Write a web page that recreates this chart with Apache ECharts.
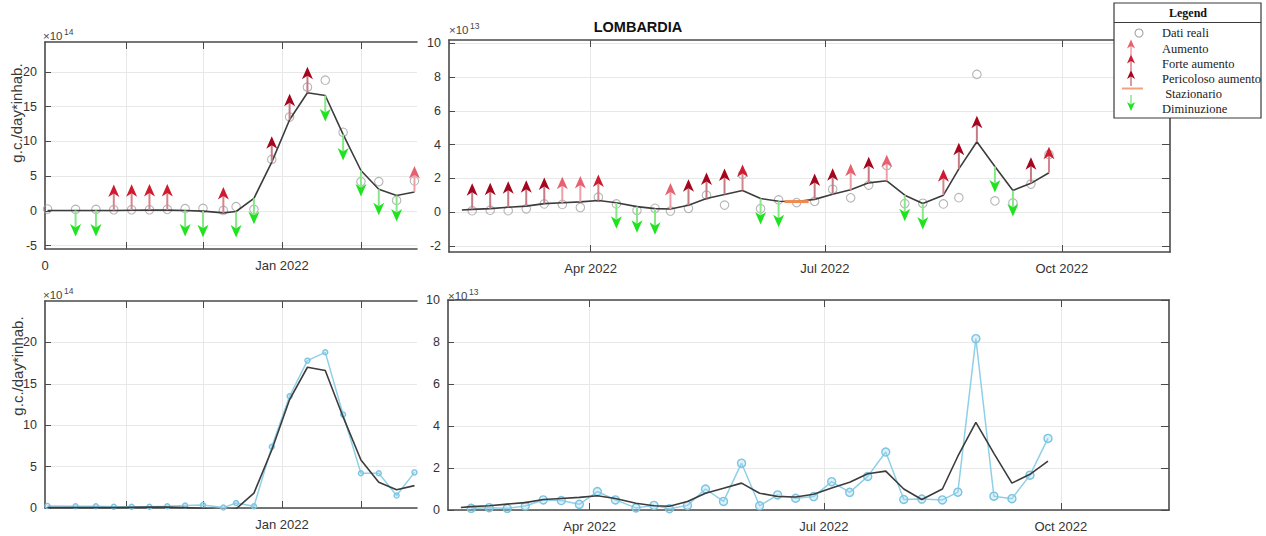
<!DOCTYPE html>
<html>
<head>
<meta charset="utf-8">
<script src="https://cdn.jsdelivr.net/npm/echarts@6/dist/echarts.min.js"></script>
<style>
  html, body { margin: 0; padding: 0; background: #fff; }
  #chart { width: 1266px; height: 536px; }
</style>
</head>
<body>
<div id="chart"></div>
<script>
// ---- Winter wave 2021/22 (left panels), units of 1e14 g.c./day*inhab. ----
const winterDates = ['2021-10-01','2021-10-12','2021-10-20','2021-10-27','2021-11-03','2021-11-10','2021-11-17',
  '2021-11-24','2021-12-01','2021-12-09','2021-12-14','2021-12-21','2021-12-28','2022-01-04','2022-01-11',
  '2022-01-18','2022-01-25','2022-02-01','2022-02-08','2022-02-15','2022-02-22'];
const winterReal  = [0.25, 0.2, 0.2, 0.15, 0.15, 0.15, 0.2, 0.3, 0.35, 0.05, 0.6, 0.2, 7.4, 13.5, 17.8, 18.8, 11.3, 4.2, 4.2, 1.5, 4.3];
const winterTrend = [0.05, 0.05, 0.05, 0.05, 0.08, 0.1, 0.1, 0.05, -0.05, -0.3, -0.1, 1.8, 7.0, 13.1, 17.0, 16.6, 11.0, 5.8, 3.1, 2.2, 2.7];
const winterSignal = ['', 'down','down','forte','forte','forte','forte','down','down','forte','down','down',
  'pericoloso','pericoloso','pericoloso','down','down','down','down','down','aumento'];

// ---- Spring / summer 2022 (right panels), units of 1e13 g.c./day*inhab. ----
const summerDates = ['2022-02-10','2022-02-14','2022-02-21','2022-02-28','2022-03-07','2022-03-14','2022-03-21',
  '2022-03-28','2022-04-04','2022-04-11','2022-04-19','2022-04-26','2022-05-02','2022-05-09','2022-05-16',
  '2022-05-23','2022-05-30','2022-06-06','2022-06-13','2022-06-20','2022-06-27','2022-07-04','2022-07-11',
  '2022-07-18','2022-07-25','2022-08-01','2022-08-08','2022-08-16','2022-08-22','2022-08-29','2022-09-05',
  '2022-09-12','2022-09-19','2022-09-26'];
const summerReal  = [null, 0.08, 0.11, 0.08, 0.19, 0.48, 0.45, 0.27, 0.88, 0.48, 0.10, 0.22, 0.06, 0.22, 1.00, 0.41,
  2.23, 0.2, 0.72, 0.56, 0.64, 1.35, 0.84, 1.6, 2.76, 0.5, 0.52, 0.48, 0.85, 8.16, 0.66, 0.54, 1.66, 3.41];
const summerTrend = [0.12, 0.16, 0.2, 0.28, 0.35, 0.5, 0.55, 0.6, 0.68, 0.55, 0.32, 0.2, 0.18, 0.4, 0.8, 1.04,
  1.28, 0.8, 0.64, 0.62, 0.75, 1.05, 1.32, 1.73, 1.85, 1.0, 0.5, 1.0, 2.56, 4.17, 2.7, 1.28, 1.7, 2.33];
const summerSignal = ['', 'pericoloso','pericoloso','pericoloso','pericoloso','pericoloso','aumento','aumento','forte',
  'down','down','down','aumento','pericoloso','pericoloso','pericoloso','forte','down','down','flat','pericoloso',
  'pericoloso','aumento','pericoloso','aumento','down','down','forte','pericoloso','pericoloso','down','down',
  'pericoloso','forte'];

// ---- Axis ticks and labels ----
const winterRange = ['2021-09-30', '2022-02-23'];
const summerRange = ['2022-02-05', '2022-11-12'];
const winterMonthTicks = ['2021-11-01', '2021-12-01', '2022-01-01', '2022-02-01'];
const summerMonthTicks = ['2022-04-01', '2022-07-01', '2022-10-01'];
const winterTickLabels = { '2021-09-30': '0', '2022-01-01': 'Jan 2022' };
const winterTickLabelsBottom = { '2022-01-01': 'Jan 2022' };
const summerTickLabels = { '2022-04-01': 'Apr 2022', '2022-07-01': 'Jul 2022', '2022-10-01': 'Oct 2022' };
const yTicksWinterTop = [-5, 0, 5, 10, 15, 20];
const yTicksWinterBottom = [0, 5, 10, 15, 20];
const yTicksSummerTop = [-2, 0, 2, 4, 6, 8, 10];
const yTicksSummerBottom = [0, 2, 4, 6, 8, 10];

const signalCode = { aumento: 1, forte: 2, pericoloso: 3, flat: 0, down: -1 };
const signalNames = { aumento: 'Aumento', forte: 'Forte aumento', pericoloso: 'Pericoloso aumento',
  flat: ' Stazionario', down: 'Diminuzione' };

const SANS = '"Liberation Sans", Arial, sans-serif';
const SERIF = '"Liberation Serif", "Times New Roman", serif';
const AXIS = '#4a4a4a';
const GRIDC = '#e8e8e8';
const HEAD = { 1: '#e8606f', 2: '#cf1a30', 3: '#a5051d', '-1': '#1fe31f' };
const SHAFT = { 1: '#eda0a8', 2: '#d5858e', 3: '#c47c86', '-1': '#86e986' };
const FLAT = '#f28a50';

const ts = d => Date.parse(d + 'T00:00:00Z');
const dayKey = v => new Date(v).toISOString().slice(0, 10);

function pairs(dates, vals) {
  const out = [];
  dates.forEach((d, i) => { if (vals[i] !== null) out.push([ts(d), vals[i]]); });
  return out;
}

// one arrow (or a flat bar) anchored on the trend point
function arrowShape(px, py, k, L, w, h, flatHalf, z, sw) {
  if (k === 0) {
    return { type: 'line', z: z, shape: { x1: px - flatHalf, y1: py, x2: px + flatHalf, y2: py },
      style: { stroke: FLAT, lineWidth: 3 } };
  }
  const dir = k > 0 ? -1 : 1;
  const tipY = py + dir * L;
  const backY = tipY - dir * h;
  const notchY = tipY - dir * h * 0.72;
  return { type: 'group', z: z, children: [
    { type: 'line', z: z, shape: { x1: px, y1: py, x2: px, y2: notchY }, style: { stroke: SHAFT[k], lineWidth: sw } },
    { type: 'polygon', z: z, shape: { points: [[px, tipY], [px - w / 2, backY], [px, notchY], [px + w / 2, backY]] },
      style: { fill: HEAD[k] } }
  ]};
}

function arrowSeries(dates, trend, signal, axisIdx) {
  const data = [];
  dates.forEach((d, i) => { if (signal[i]) data.push([ts(d), trend[i], signalCode[signal[i]]]); });
  return {
    type: 'custom', xAxisIndex: axisIdx, yAxisIndex: axisIdx, z: 5, data: data,
    renderItem: (params, api) => {
      const p = api.coord([api.value(0), api.value(1)]);
      return arrowShape(p[0], p[1], api.value(2), 26, 11, 12.5, 12, 5, 2);
    }
  };
}

function xAxis(gi, range, ticks, labels, top) {
  const lab = labels || {};
  return {
    type: 'value', gridIndex: gi, min: ts(range[0]), max: ts(range[1]), position: top ? 'top' : 'bottom',
    axisLine: { show: true, onZero: false, lineStyle: { color: AXIS, width: 1.6 } },
    axisTick: { show: true, inside: true, length: 7, customValues: ticks.map(ts), lineStyle: { color: AXIS, width: 1 } },
    axisLabel: top ? { show: false } : {
      show: true, customValues: Object.keys(lab).map(ts), formatter: v => lab[dayKey(v)] || '',
      margin: 10, color: '#333', fontSize: 13, fontFamily: SANS
    },
    splitLine: { show: !top, lineStyle: { color: GRIDC, width: 1 } }
  };
}

function yAxis(gi, min, max, ticks, right) {
  return {
    type: 'value', gridIndex: gi, min: min, max: max, position: right ? 'right' : 'left',
    axisLine: { show: true, onZero: false, lineStyle: { color: AXIS, width: 1.6 } },
    axisTick: { show: true, inside: true, length: right ? 8 : 6, customValues: ticks, lineStyle: { color: AXIS, width: 1 } },
    axisLabel: right ? { show: false } : {
      show: true, customValues: ticks, margin: 8, color: '#333', fontSize: 12.5, fontFamily: SANS
    },
    splitLine: { show: !right, lineStyle: { color: GRIDC, width: 1 } }
  };
}

const grids = [
  { left: 45, top: 42, width: 372, height: 207 },
  { left: 449, top: 40, width: 721, height: 212 },
  { left: 45, top: 301, width: 372, height: 207 },
  { left: 448, top: 300, width: 721, height: 210 }
];

const xAxes = [
  xAxis(0, winterRange, winterMonthTicks, winterTickLabels, false),
  xAxis(1, summerRange, summerMonthTicks, summerTickLabels, false),
  xAxis(2, winterRange, winterMonthTicks, winterTickLabelsBottom, false),
  xAxis(3, summerRange, summerMonthTicks, summerTickLabels, false),
  xAxis(0, winterRange, winterMonthTicks, null, true),
  xAxis(1, summerRange, summerMonthTicks, null, true),
  xAxis(2, winterRange, winterMonthTicks, null, true),
  xAxis(3, summerRange, summerMonthTicks, null, true)
];
const yAxes = [
  yAxis(0, -5.5, 24.3, yTicksWinterTop, false),
  yAxis(1, -2.37, 10.2, yTicksSummerTop, false),
  yAxis(2, 0, 25, yTicksWinterBottom, false),
  yAxis(3, 0, 10, yTicksSummerBottom, false),
  yAxis(1, -2.37, 10.2, yTicksSummerTop, true),
  yAxis(3, 0, 10, yTicksSummerBottom, true)
];

function realCircles(dates, vals, idx) {
  return { type: 'scatter', xAxisIndex: idx, yAxisIndex: idx, z: 2, symbol: 'circle', symbolSize: 8.5,
    itemStyle: { color: 'rgba(0,0,0,0)', borderColor: '#a2a2a2', borderWidth: 1.1 }, data: pairs(dates, vals) };
}
function trendLine(dates, vals, idx) {
  return { type: 'line', xAxisIndex: idx, yAxisIndex: idx, z: 4, showSymbol: false, symbol: 'none',
    lineStyle: { color: '#3c3c3c', width: 1.6 }, data: pairs(dates, vals) };
}
function realLine(dates, vals, idx, size) {
  return { type: 'line', xAxisIndex: idx, yAxisIndex: idx, z: 3, symbol: 'circle', symbolSize: size, showSymbol: true,
    lineStyle: { color: '#8fd0e8', width: 1.5 },
    itemStyle: { color: 'rgba(160,215,238,0.35)', borderColor: '#79c4e1', borderWidth: 1.4 },
    data: pairs(dates, vals) };
}

const series = [
  realCircles(winterDates, winterReal, 0),
  trendLine(winterDates, winterTrend, 0),
  arrowSeries(winterDates, winterTrend, winterSignal, 0),
  realCircles(summerDates, summerReal, 1),
  trendLine(summerDates, summerTrend, 1),
  arrowSeries(summerDates, summerTrend, summerSignal, 1),
  realLine(winterDates, winterReal, 2, 5),
  trendLine(winterDates, winterTrend, 2),
  realLine(summerDates, summerReal, 3, 8),
  trendLine(summerDates, summerTrend, 3)
];

function txt(x, y, text, font, opts) {
  const o = opts || {};
  return { type: 'text', x: x, y: y, rotation: o.rotation || 0, z: o.z || 50,
    style: { text: text, font: font, fill: o.fill || '#333', align: o.align || 'left', textAlign: o.align || 'left',
      verticalAlign: 'middle', textVerticalAlign: 'middle' } };
}
function exponent(x, y, pow) {
  return [txt(x, y, '\u00d710', '11.5px ' + SANS, { fill: '#444' }), txt(x + 21, y - 4, pow, '8.5px ' + SANS, { fill: '#444' })];
}

// legend box
const LX = 1114, LY = 3;
const legendItems = [
  { key: 'real', label: 'Dati reali', y: 33 },
  { key: 'aumento', label: signalNames.aumento, y: 48.5 },
  { key: 'forte', label: signalNames.forte, y: 63.5 },
  { key: 'pericoloso', label: signalNames.pericoloso, y: 79 },
  { key: 'flat', label: signalNames.flat, y: 93.5 },
  { key: 'down', label: signalNames.down, y: 109 }
];
const legendChildren = [
  { type: 'rect', z: 100, shape: { x: LX, y: LY, width: 147, height: 115 }, style: { fill: '#fff', stroke: '#3a3a3a', lineWidth: 1.2 } },
  { type: 'line', z: 101, shape: { x1: LX, y1: 22.5, x2: LX + 147, y2: 22.5 }, style: { stroke: '#3a3a3a', lineWidth: 1.2 } },
  txt(LX + 74, 13, 'Legend', 'bold 12px ' + SERIF, { align: 'center', fill: '#111', z: 101 })
];
legendItems.forEach(it => {
  legendChildren.push(txt(1162, it.y, it.label, '12.5px ' + SERIF, { fill: '#222', z: 101 }));
  if (it.key === 'real') {
    legendChildren.push({ type: 'circle', z: 101, shape: { cx: 1139, cy: it.y, r: 4 }, style: { fill: 'none', stroke: '#a2a2a2', lineWidth: 1.1 } });
  } else if (it.key === 'flat') {
    legendChildren.push({ type: 'line', z: 101, shape: { x1: 1122, y1: 88.5, x2: 1143, y2: 88.5 }, style: { stroke: '#f4a27c', lineWidth: 2 } });
  } else if (it.key === 'down') {
    legendChildren.push(arrowShape(1131, 95, -1, 16, 8, 9, 0, 101, 1.5));
  } else {
    const k = signalCode[it.key];
    legendChildren.push(arrowShape(1131, it.y + 7, k, 16, 8, 9, 0, 101, 1.5));
  }
});

const graphics = [
  txt(638, 27, 'LOMBARDIA', 'bold 14.5px ' + SANS, { align: 'center', fill: '#111' }),
  txt(16, 113, 'g.c./day*inhab.', '15px ' + SANS, { align: 'center', rotation: Math.PI / 2, fill: '#3a3a3a' }),
  txt(17, 366, 'g.c./day*inhab.', '15px ' + SANS, { align: 'center', rotation: Math.PI / 2, fill: '#3a3a3a' })
].concat(exponent(43, 36, '14'), exponent(449, 30, '13'), exponent(43, 295, '14'), exponent(448, 296, '13'),
  [{ type: 'group', z: 100, children: legendChildren }]);

const chart = echarts.init(document.getElementById('chart'), null, { renderer: 'svg' });
chart.setOption({
  animation: false,
  backgroundColor: '#fff',
  grid: grids,
  xAxis: xAxes,
  yAxis: yAxes,
  series: series,
  graphic: graphics
});
</script>
</body>
</html>
